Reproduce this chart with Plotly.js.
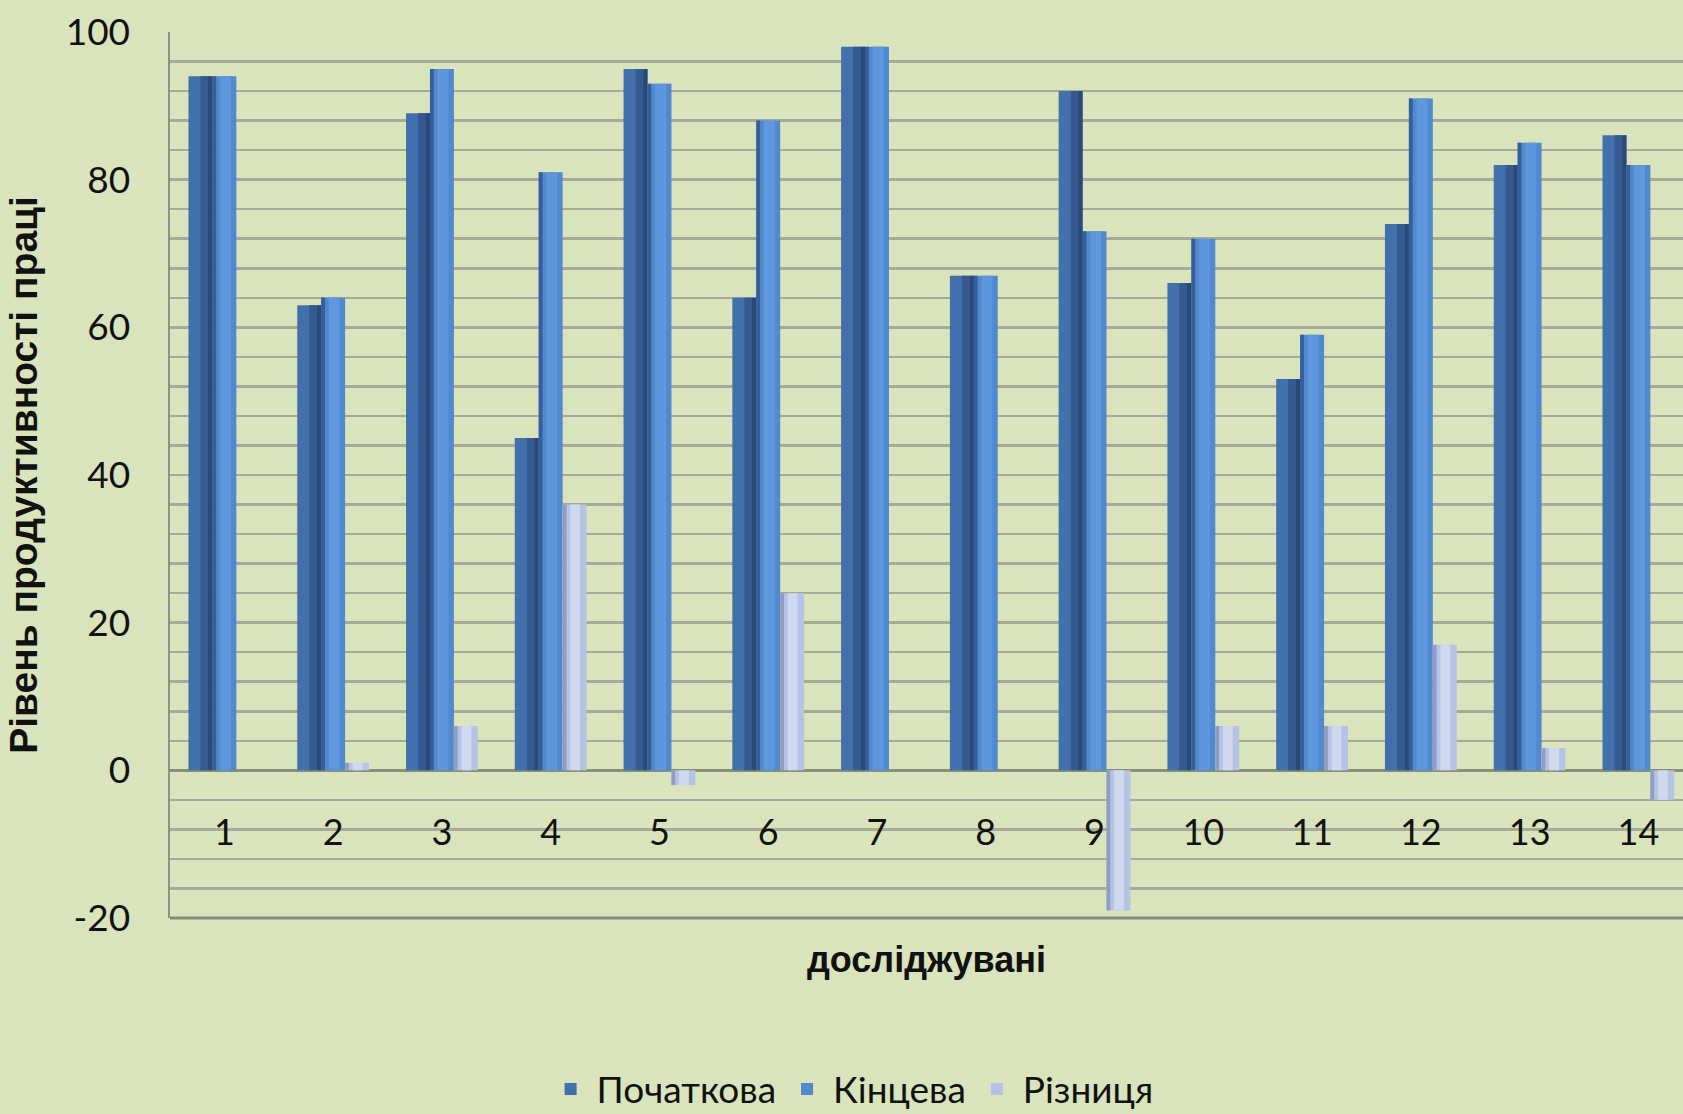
<!DOCTYPE html>
<html>
<head>
<meta charset="utf-8">
<script src="https://cdn.plot.ly/plotly-3.0.1.min.js"></script>
<style>
  html, body { margin: 0; padding: 0; background: #D9E3BC; overflow: hidden; }
  #chart { width: 1683px; height: 1114px; }
</style>
</head>
<body>
<div id="chart"></div>
<script>
// Data
const categories = ['1','2','3','4','5','6','7','8','9','10','11','12','13','14'];
const xPos = [1,2,3,4,5,6,7,8,9,10,11,12,13,14];
const initial = [94, 63, 89, 45, 95, 64, 98, 67, 92, 66, 53, 74, 82, 86];   // Початкова
const final   = [94, 64, 95, 81, 93, 88, 98, 67, 73, 72, 59, 91, 85, 82];   // Кінцева
const diff    = [0, 1, 6, 36, -2, 24, 0, 0, -19, 6, 6, 17, 3, -4];          // Різниця
const seriesNames = ['Початкова', 'Кінцева', 'Різниця'];
const yTickVals = [-20, 0, 20, 40, 60, 80, 100];
const yTickText = ['-20', '0', '20', '40', '60', '80', '100'];

const FONT = 'Lato, "Open Sans", sans-serif';
const TITLE_FONT = '"Liberation Sans", Arial, sans-serif';
const BW = 0.22;       // width of one bar (category units)
const G0 = -0.33;      // left edge of a group relative to the category centre

function bar(y, name, color, offset, width, legend) {
  return {
    type: 'bar', x: xPos, y: y, name: name,
    offset: offset, width: width,
    marker: { color: color, line: { width: 0 } },
    showlegend: legend, hoverinfo: legend ? 'x+y+name' : 'skip'
  };
}

const traces = [
  bar(initial, seriesNames[0], '#4270AC', G0, BW, true),
  bar(final,   seriesNames[1], '#5288CE', G0 + BW, BW, true),
  bar(diff,    seriesNames[2], '#B6C3E4', G0 + 2 * BW, BW, true),
  // cylinder-like shading bands
  bar(initial, seriesNames[0], '#36598F', G0 + 0.11, 0.07, false),
  bar(initial, seriesNames[0], '#2A4878', G0 + 0.18, 0.04, false),
  bar(final,   seriesNames[1], '#355E9A', G0 + BW, 0.035, false),
  bar(final,   seriesNames[1], '#5E97DE', G0 + BW + 0.07, 0.10, false),
  bar(diff,    seriesNames[2], '#8F9DC4', G0 + 2 * BW, 0.035, false),
  bar(diff,    seriesNames[2], '#CED8EF', G0 + 2 * BW + 0.07, 0.09, false)
];

const layout = {
  width: 1683, height: 1114,
  paper_bgcolor: '#D9E3BC', plot_bgcolor: '#D9E3BC',
  margin: { l: 170, r: 0, t: 32, b: 196 },
  barmode: 'overlay',
  font: { family: FONT, color: '#111111', size: 36 },
  xaxis: {
    range: [0.5, 14.41], anchor: 'free', position: 0.1245,
    tickmode: 'array', tickvals: xPos, ticktext: categories,
    ticks: '', showline: false, showgrid: false, zeroline: false,
    tickfont: { family: FONT, size: 36, color: '#111111' },
    title: { text: 'досліджувані', standoff: 95,
             font: { family: TITLE_FONT, size: 36, color: '#111111', weight: 'bold' } }
  },
  yaxis: {
    range: [-20, 100],
    tickmode: 'array', tickvals: yTickVals, ticktext: yTickText,
    tickfont: { family: FONT, size: 37, color: '#111111' },
    ticks: '', ticklabelstandoff: 30,
    showgrid: true, gridcolor: '#A7AA98', gridwidth: 2.5,
    minor: { dtick: 4, showgrid: true, gridcolor: '#A7AA98', gridwidth: 2.5, ticks: '' },
    zeroline: true, zerolinecolor: '#878E7A', zerolinewidth: 3.5,
    showline: true, linecolor: '#8C9380', linewidth: 2.5,
    title: { text: 'Рівень продуктивності праці', standoff: 16,
             font: { family: TITLE_FONT, size: 39, color: '#111111', weight: 'bold' } }
  },
  shapes: [
    // bottom frame line of the plot area
    { type: 'line', xref: 'paper', yref: 'paper', x0: 0, x1: 1, y0: 0, y1: 0,
      line: { color: '#858C78', width: 3 }, layer: 'above' }
  ],
  legend: {
    orientation: 'h', xref: 'container', yref: 'container',
    x: 0.506, xanchor: 'center', y: 0.022, yanchor: 'middle',
    font: { family: FONT, size: 37, color: '#111111' },
    bgcolor: 'rgba(0,0,0,0)', itemwidth: 42, traceorder: 'normal'
  },
  showlegend: true
};

Plotly.newPlot('chart', traces, layout, { displayModeBar: false, staticPlot: true });
</script>
</body>
</html>
